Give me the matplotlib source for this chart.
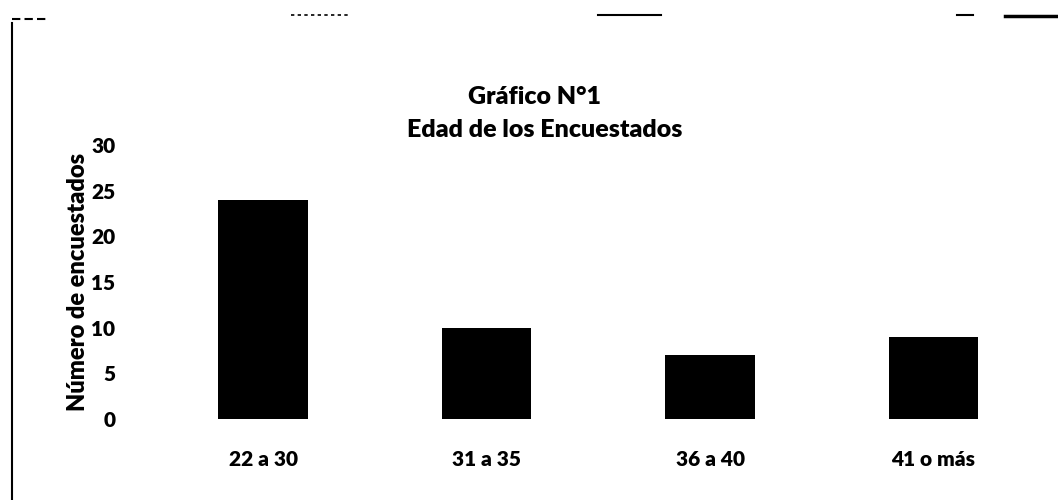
import matplotlib
matplotlib.use("Agg")
import matplotlib.pyplot as plt
from matplotlib.lines import Line2D

plt.rcParams['font.family'] = ['Lato', 'DejaVu Sans']
plt.rcParams['font.weight'] = 'heavy'

# Data
categorias = ['22 a 30', '31 a 35', '36 a 40', '41 o más']
encuestados = [24, 10, 7, 9]
y_ticks = [0, 5, 10, 15, 20, 25, 30]

fig = plt.figure(figsize=(10.58, 5), dpi=100)
ax = fig.add_axes([0.143, 0.162, 0.845, 0.548])

ax.bar(range(len(categorias)), encuestados, width=0.4, color='black')
ax.set_xlim(-0.5, len(categorias) - 0.5)
ax.set_ylim(0, 30)
ax.set_yticks(y_ticks)
ax.set_xticks(range(len(categorias)))
ax.set_xticklabels(categorias)
ax.tick_params(axis='both', length=0, labelsize=15)
ax.tick_params(axis='y', pad=26)
ax.tick_params(axis='x', pad=22)
for s in ax.spines.values():
    s.set_visible(False)

ax.set_ylabel('Número de encuestados', fontsize=17, fontweight='heavy')
ax.yaxis.set_label_coords(-0.07, 0.5)

fig.text(0.505, 0.805, 'Gráfico N°1', ha='center', va='center', fontsize=18, fontweight='heavy')
fig.text(0.515, 0.74, 'Edad de los Encuestados', ha='center', va='center', fontsize=18, fontweight='heavy')

# scanned frame border
fig.add_artist(Line2D([0.011, 0.011], [0.0, 0.955], color='black', lw=1.5))
fig.add_artist(Line2D([0.011, 0.045], [0.962, 0.962], color='black', lw=1.5, ls=(0, (4, 2))))
fig.add_artist(Line2D([0.275, 0.33], [0.97, 0.97], color='black', lw=1.2, ls=(0, (2, 2))))
fig.add_artist(Line2D([0.565, 0.625], [0.97, 0.97], color='black', lw=1.5))
fig.add_artist(Line2D([0.905, 0.92], [0.97, 0.97], color='black', lw=1.5))
fig.add_artist(Line2D([0.95, 1.0], [0.968, 0.968], color='black', lw=2.5))

fig.savefig('out.png', dpi=100)
